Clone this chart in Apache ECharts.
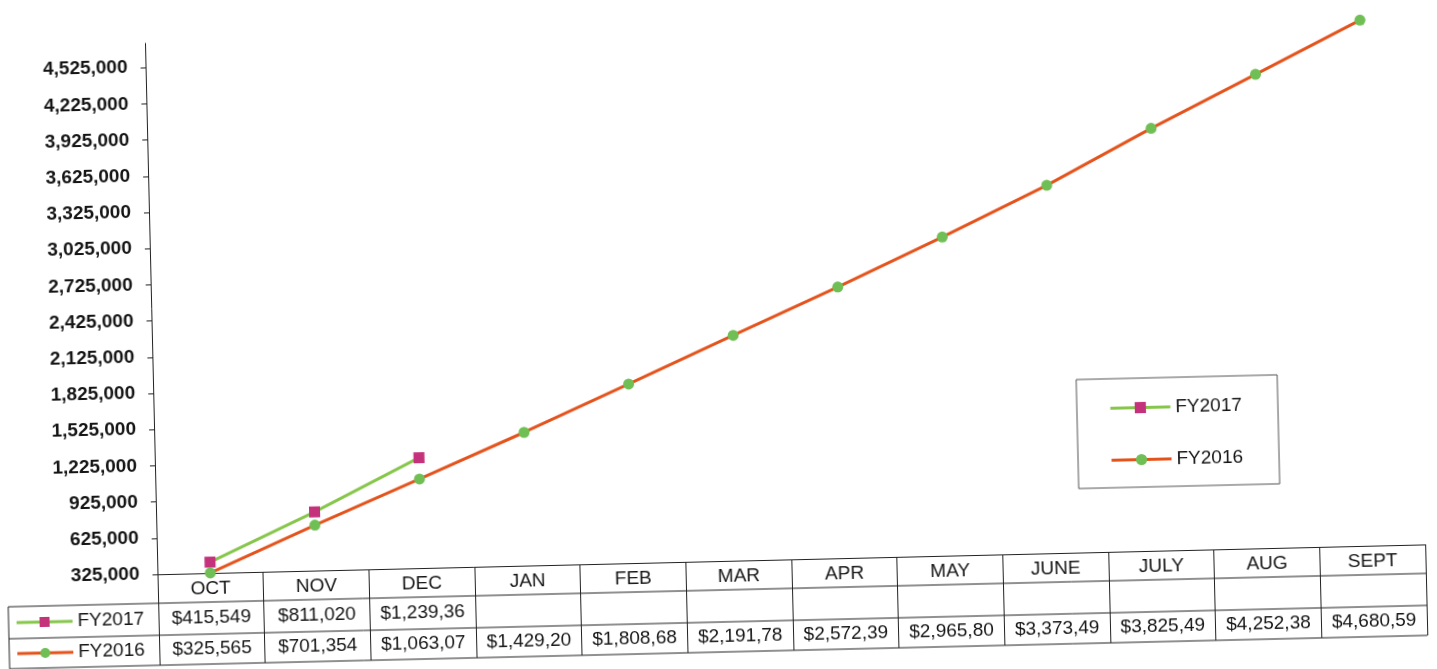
<!DOCTYPE html>
<html>
<head>
<meta charset="utf-8">
<script src="https://cdn.jsdelivr.net/npm/echarts@6/dist/echarts.min.js"></script>
<style>
  html, body { margin: 0; padding: 0; background: #fff; overflow: hidden; }
  #chart { width: 1437px; height: 669px; transform: rotate(-1.35deg); transform-origin: 50% 50%; }
</style>
</head>
<body>
<div id="chart"></div>
<script>
// Monthly cumulative totals, fiscal year Oct–Sept
const months = ['OCT', 'NOV', 'DEC', 'JAN', 'FEB', 'MAR', 'APR', 'MAY', 'JUNE', 'JULY', 'AUG', 'SEPT'];
const fy2017 = [415549, 811020, 1239360, null, null, null, null, null, null, null, null, null];
const fy2016 = [325565, 701354, 1063070, 1429200, 1808680, 2191780, 2572390, 2965800, 3373490, 3825490, 4252380, 4680590];
const yTicks = [325000, 625000, 925000, 1225000, 1525000, 1825000, 2125000, 2425000, 2725000, 3025000, 3325000, 3625000, 3925000, 4225000, 4525000];
const seriesNames = ['FY2017', 'FY2016'];

const FONT = '"Liberation Sans", Arial, sans-serif';
const INK = '#151515';
const styles = {
  FY2017: { line: '#86c64a', marker: '#c4327c', symbol: 'rect', size: 11 },
  FY2016: { line: '#e4531c', marker: '#6fbf55', symbol: 'circle', size: 11 }
};
const rowValues = { FY2017: fy2017, FY2016: fy2016 };

// Data-table cells show the dollar amount, clipped to nine characters
function cellText(v) {
  if (v == null) return '';
  return ('$' + v.toLocaleString('en-US')).slice(0, 9);
}

const chart = echarts.init(document.getElementById('chart'), null, { renderer: 'canvas' });

const option = {
  backgroundColor: '#ffffff',
  animation: false,
  grid: { left: 152, right: 17, top: 30, bottom: 108 },
  legend: {
    data: seriesNames,
    orient: 'vertical',
    left: 1075,
    top: 388,
    padding: [20, 36, 18, 32],
    itemGap: 33,
    itemWidth: 60,
    itemHeight: 14,
    lineStyle: { width: 3 },
    borderColor: '#555',
    borderWidth: 1,
    textStyle: { fontFamily: FONT, fontSize: 19, color: INK }
  },
  xAxis: {
    type: 'category',
    data: months,
    boundaryGap: true,
    axisLine: { lineStyle: { color: '#222', width: 1 } },
    axisTick: { show: true, interval: 0, length: 91, lineStyle: { color: '#222', width: 1 } },
    axisLabel: { interval: 0, margin: 6, fontFamily: FONT, fontSize: 19, color: INK }
  },
  yAxis: {
    type: 'value',
    min: 325000,
    max: 4725000,
    interval: 300000,
    splitLine: { show: false },
    axisLine: { show: true, lineStyle: { color: '#222', width: 1 } },
    axisTick: { show: true, length: 5, customValues: yTicks, lineStyle: { color: '#222' } },
    axisLabel: {
      customValues: yTicks,
      margin: 18,
      fontFamily: FONT,
      fontSize: 19,
      fontWeight: 'bold',
      color: INK,
      formatter: v => v.toLocaleString('en-US')
    }
  },
  series: [
    {
      name: 'FY2016',
      type: 'line',
      data: fy2016,
      symbol: styles.FY2016.symbol,
      symbolSize: styles.FY2016.size,
      lineStyle: { color: styles.FY2016.line, width: 3 },
      itemStyle: { color: styles.FY2016.marker },
      z: 2
    },
    {
      name: 'FY2017',
      type: 'line',
      data: fy2017,
      connectNulls: false,
      symbol: styles.FY2017.symbol,
      symbolSize: styles.FY2017.size,
      lineStyle: { color: styles.FY2017.line, width: 3 },
      itemStyle: { color: styles.FY2017.marker },
      z: 3
    }
  ]
};

chart.setOption(option);

// Data table under the plot, aligned to the category bands
const c0 = chart.convertToPixel({ xAxisIndex: 0 }, 0);
const c1 = chart.convertToPixel({ xAxisIndex: 0 }, 1);
const band = c1 - c0;
const axisY = chart.convertToPixel({ yAxisIndex: 0 }, 325000);
const tableLeft = 2;
const tableRight = c0 - band / 2 + band * months.length;
const headerH = 29;
const rowH = [32, 30];
const rowTop = [axisY + headerH, axisY + headerH + rowH[0]];
const tableBottom = rowTop[1] + rowH[1];

const lineStyle = { stroke: '#222', lineWidth: 1 };
const elements = [];
[rowTop[0], rowTop[1], tableBottom].forEach(y => {
  elements.push({ type: 'line', shape: { x1: tableLeft, y1: y, x2: tableRight, y2: y }, style: lineStyle, silent: true });
});
elements.push({ type: 'line', shape: { x1: tableLeft, y1: rowTop[0], x2: tableLeft, y2: tableBottom }, style: lineStyle, silent: true });

seriesNames.forEach((name, r) => {
  const cy = rowTop[r] + rowH[r] / 2;
  const st = styles[name];
  elements.push({ type: 'line', shape: { x1: 10, y1: cy, x2: 66, y2: cy }, style: { stroke: st.line, lineWidth: 3 }, silent: true });
  if (st.symbol === 'rect') {
    elements.push({ type: 'rect', shape: { x: 33, y: cy - 5, width: 10, height: 10 }, style: { fill: st.marker }, silent: true });
  } else {
    elements.push({ type: 'circle', shape: { cx: 38, cy: cy, r: 5 }, style: { fill: st.marker }, silent: true });
  }
  elements.push({
    type: 'text', x: 71, y: cy,
    style: { text: name, font: '19px ' + FONT, fill: INK, verticalAlign: 'middle', align: 'left' },
    silent: true
  });
  rowValues[name].forEach((v, i) => {
    const cx = chart.convertToPixel({ xAxisIndex: 0 }, i);
    elements.push({
      type: 'text', x: cx, y: cy,
      style: { text: cellText(v), font: '19px ' + FONT, fill: INK, align: 'center', verticalAlign: 'middle' },
      silent: true
    });
  });
});

chart.setOption({ graphic: { elements: elements } });
</script>
</body>
</html>
